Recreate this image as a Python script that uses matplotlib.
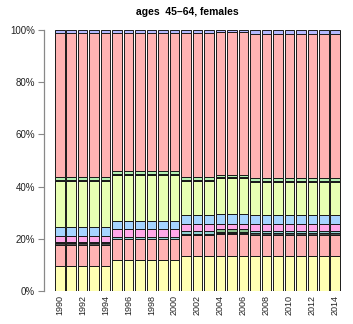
import matplotlib
matplotlib.use("Agg")
import matplotlib.pyplot as plt
import numpy as np

plt.rcParams['font.family'] = ['Liberation Sans', 'DejaVu Sans']

years = list(range(1990, 2015))
tick_labels = [str(y) for y in years if y % 2 == 0]

# group shares (percent), bottom to top, per period
def rep(vals, n):
    return [vals] * n

grpA = [9.6, 8.2, 0.6, 0.3, 0.0, 2.2, 3.5, 17.6, 0.5, 1.3, 55.1, 1.1]  # 1990-1994
grpB = [11.9, 7.9, 0.3, 0.7, 0.0, 2.8, 3.4, 17.3, 0.4, 1.2, 53.0, 1.1]  # 1995-2000
grpC = [13.4, 8.2, 0.4, 1.0, 0.0, 2.5, 3.5, 13.0, 0.4, 1.1, 55.5, 1.0]  # 2001-2003
grpE = [13.4, 8.4, 0.3, 0.5, 1.0, 2.2, 3.6, 14.0, 0.3, 0.9, 54.5, 0.9]  # 2004-2006
grpD = [13.4, 8.2, 0.5, 0.9, 0.0, 2.8, 3.3, 12.5, 0.6, 1.2, 55.1, 1.5]  # 2007-2014

shares = np.array(rep(grpA, 5) + rep(grpB, 6) + rep(grpC, 3) + rep(grpE, 3) + rep(grpD, 8))
shares = shares / shares.sum(axis=1, keepdims=True) * 100

colors = ['#FFFFB3', '#FFB3B3', '#4D4D4D', '#8FD1D1', '#8CBF8C', '#FFA8E8',
          '#A6D4FF', '#E8FFB3', '#4D4D4D', '#B3F0B3', '#FFB3B3', '#B3B8FF']

fig = plt.figure(figsize=(3.53, 3.24), dpi=100)
ax = fig.add_axes([44/353, 33/324, (346-44)/353, 261/324])

x = np.arange(len(years))
w = 0.83
bottom = np.zeros(len(years))
for k in range(shares.shape[1]):
    ax.bar(x, shares[:, k], bottom=bottom, width=w, color=colors[k],
           edgecolor='#1a1a1a', linewidth=0.7)
    bottom += shares[:, k]

scale = 285 / (24 + w)
ax.set_xlim(-w/2 - 11/scale, 24 + w/2 + 6/scale)
ax.set_ylim(0, 100)

for s in ['top', 'right', 'bottom']:
    ax.spines[s].set_visible(False)
ax.spines['left'].set_bounds(0, 100)
ax.spines['left'].set_color('#888888')
ax.spines['left'].set_linewidth(0.9)

ax.set_yticks([0, 20, 40, 60, 80, 100])
ax.set_yticklabels([f"{v}%" for v in [0, 20, 40, 60, 80, 100]])
ax.tick_params(axis='y', length=4.5, width=0.8, color='#888888', labelsize=7,
               labelcolor='#222222', pad=2)

ax.set_xticks([i for i, y in enumerate(years) if y % 2 == 0])
ax.set_xticklabels(tick_labels, rotation=90)
ax.tick_params(axis='x', length=0, labelsize=6.5, labelcolor='#222222', pad=3)

fig.text(187.5/353, 1 - 12/324, "ages  45\u201364, females", ha='center', va='center',
         fontsize=7.5, fontweight='bold')

fig.savefig("out.png", dpi=100)
